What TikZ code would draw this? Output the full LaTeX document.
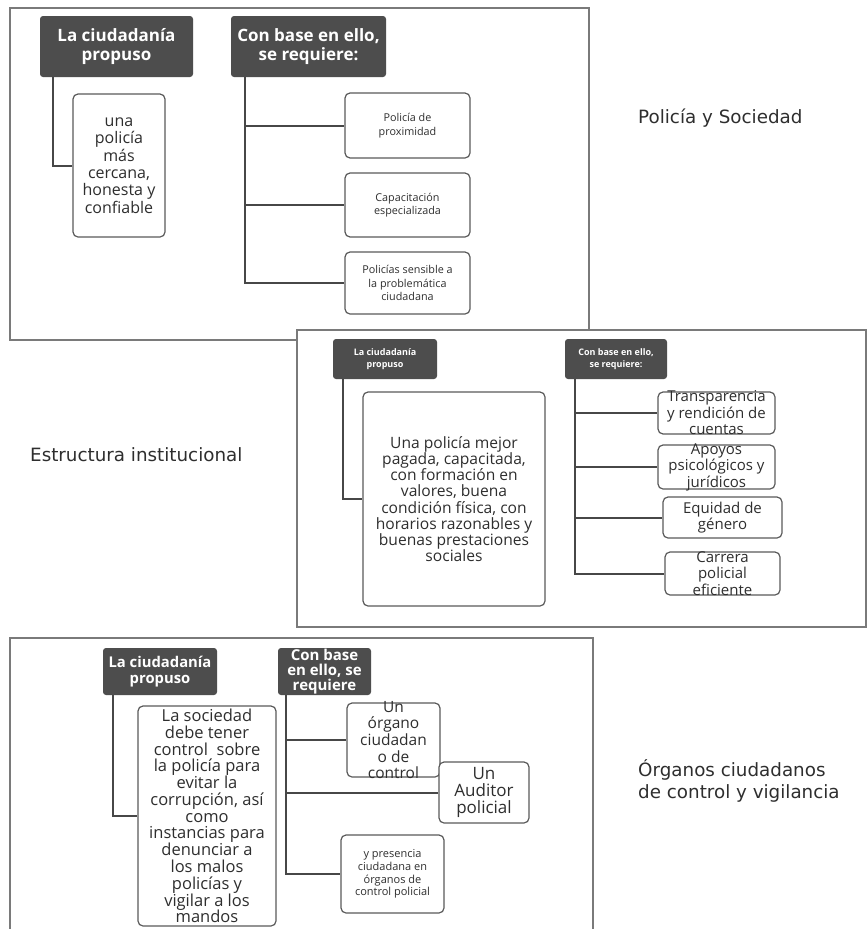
\documentclass[tikz,border=0pt]{standalone}
\usepackage{fontspec}
\setmainfont{Open Sans}
\newfontfamily\sidefont{DejaVu Sans}
\definecolor{marco}{HTML}{7A7A7A}
\definecolor{cabeza}{HTML}{4D4D4D}
\definecolor{borde}{HTML}{5A5A5A}
\definecolor{gristrazo}{HTML}{474747}
\definecolor{tinta}{HTML}{2E2E2E}

\tikzset{
  panel/.style={draw=marco,line width=1.5pt,fill=white},
  cabecera/.style={fill=cabeza,rounded corners=3pt,text=white,align=center,inner sep=0pt},
  caja/.style={draw=borde,line width=1.2pt,fill=white,rounded corners=5pt,inner sep=0pt,align=center,text=tinta},
  texto/.style={inner sep=0pt,align=center,text=tinta},
  traza/.style={draw=gristrazo,line width=2pt},
  rotulo/.style={text=tinta,align=left,inner sep=0pt,font=\sidefont\fontsize{18.3}{22}\selectfont},
}

\begin{document}
\begin{tikzpicture}[x=1pt,y=-1pt]
  \useasboundingbox (0,0) rectangle (867,929);
  \clip (0,0) rectangle (867,929);

  % Policia y Sociedad
  \draw[panel] (10,8) rectangle (589,340);
  \node[cabecera,minimum width=153pt,minimum height=61pt,font=\bfseries\fontsize{17}{19}\selectfont] (h11) at (116.5,46.5) {La ciudadanía\\propuso};
  \node[cabecera,minimum width=155pt,minimum height=61pt,font=\bfseries\fontsize{17}{19}\selectfont] (h12) at (308.5,46.5) {Con base en ello,\\se requiere:};
  \node[caja,minimum width=92pt,minimum height=143pt,font=\fontsize{16}{17.3}\selectfont] (b11) at (119,165.5) {una\\policía\\más\\cercana,\\honesta y\\confiable};
  \node[caja,minimum width=125pt,minimum height=65pt,font=\fontsize{10.8}{13.5}\selectfont] (p11) at (407.5,125.5) {Policía de\\proximidad};
  \node[caja,minimum width=125pt,minimum height=64pt,font=\fontsize{10.8}{13.5}\selectfont] (p12) at (407.5,205) {Capacitación\\especializada};
  \node[caja,minimum width=125pt,minimum height=62pt,font=\fontsize{10.8}{13.5}\selectfont] (p13) at (407.5,283) {Policías sensible a\\la problemática\\ciudadana};
  \draw[traza] (h11.south west) ++(13,0) |- (b11.west);
  \draw[traza] (h12.south west) ++(14,0) coordinate (e12) |- (p11.west);
  \draw[traza] (e12) |- (p12.west);
  \draw[traza] (e12) |- (p13.west);
  \node[rotulo,anchor=west] (l1) at (638,118) {Policía y Sociedad};

  % Estructura institucional
  \draw[panel] (297,330) rectangle (866,627);
  \node[cabecera,minimum width=104pt,minimum height=40pt,font=\bfseries\fontsize{9}{12}\selectfont] (h21) at (385,359) {La ciudadanía\\propuso};
  \node[cabecera,minimum width=102pt,minimum height=40pt,font=\bfseries\fontsize{9}{12}\selectfont] (h22) at (616,359) {Con base en ello,\\se requiere:};
  \node[caja,minimum width=182pt,minimum height=214pt,font=\fontsize{15.6}{16.2}\selectfont] (b21) at (454,499) {Una policía mejor\\pagada, capacitada,\\con formación en\\valores, buena\\condición física, con\\horarios razonables y\\buenas prestaciones\\sociales};
  \node[caja,minimum width=117pt,minimum height=42pt] (q21) at (716.5,413) {};
  \node[texto,font=\fontsize{15}{16.5}\selectfont] (q21t) at (q21) {Transparencia\\y rendición de\\cuentas};
  \node[caja,minimum width=117pt,minimum height=44pt] (q22) at (716.5,467) {};
  \node[texto,font=\fontsize{15}{16.5}\selectfont] (q22t) at (q22) {Apoyos\\psicológicos y\\jurídicos};
  \node[caja,minimum width=119pt,minimum height=41pt,font=\fontsize{15}{16.5}\selectfont] (q23) at (722.5,517.5) {Equidad de\\género};
  \node[caja,minimum width=115pt,minimum height=43pt] (q24) at (722.5,573.5) {};
  \node[texto,font=\fontsize{15}{16.5}\selectfont] (q24t) at (q24) {Carrera\\policial\\eficiente};
  \draw[traza] (h21.south west) ++(10,0) |- (b21.west);
  \draw[traza] (h22.south west) ++(10,0) coordinate (e22) |- (q21.west);
  \draw[traza] (e22) |- (q22.west);
  \draw[traza] (e22) |- (q23.west);
  \draw[traza] (e22) |- (q24.west);
  \node[rotulo,anchor=west] (l2) at (30,455) {Estructura institucional};

  % Organos ciudadanos
  \draw[panel] (10,638) rectangle (593,945);
  \node[cabecera,minimum width=114pt,minimum height=47pt,font=\bfseries\fontsize{14.8}{15.5}\selectfont] (h31) at (160,671.5) {La ciudadanía\\propuso};
  \node[cabecera,minimum width=93pt,minimum height=47pt,font=\bfseries\fontsize{15}{15}\selectfont] (h32) at (324.5,671.5) {Con base\\en ello, se\\requiere};
  \node[caja,minimum width=138pt,minimum height=220pt] (b31) at (207,816) {};
  \node[texto,font=\fontsize{16.5}{16.8}\selectfont] (b31t) at (b31) {La sociedad\\debe tener\\control\ \ sobre\\la policía para\\evitar la\\corrupción, así\\como\\instancias para\\denunciar a\\los malos\\policías y\\vigilar a los\\mandos};
  \node[caja,minimum width=93pt,minimum height=74pt] (r31) at (393.5,740) {};
  \node[texto,font=\fontsize{15.5}{16.7}\selectfont] (r31t) at (r31) {Un\\órgano\\ciudadan\\o de\\control};
  \node[caja,minimum width=90pt,minimum height=61pt,font=\fontsize{17}{17}\selectfont] (r32) at (484,792.5) {Un\\Auditor\\policial};
  \node[caja,minimum width=103pt,minimum height=78pt,font=\fontsize{11}{12.8}\selectfont] (r33) at (392.5,874) {y presencia\\ciudadana en\\órganos de\\control policial};
  \draw[traza] (h31.south west) ++(10,0) |- (b31.west);
  \draw[traza] (h32.south west) ++(8,0) coordinate (e32) |- (r31.west);
  \draw[traza] (e32) |- (r32.west);
  \draw[traza] (e32) |- (r33.west);
  \node[rotulo,anchor=west] (l3) at (638,781) {Órganos ciudadanos\\de control y vigilancia};
\end{tikzpicture}
\end{document}
